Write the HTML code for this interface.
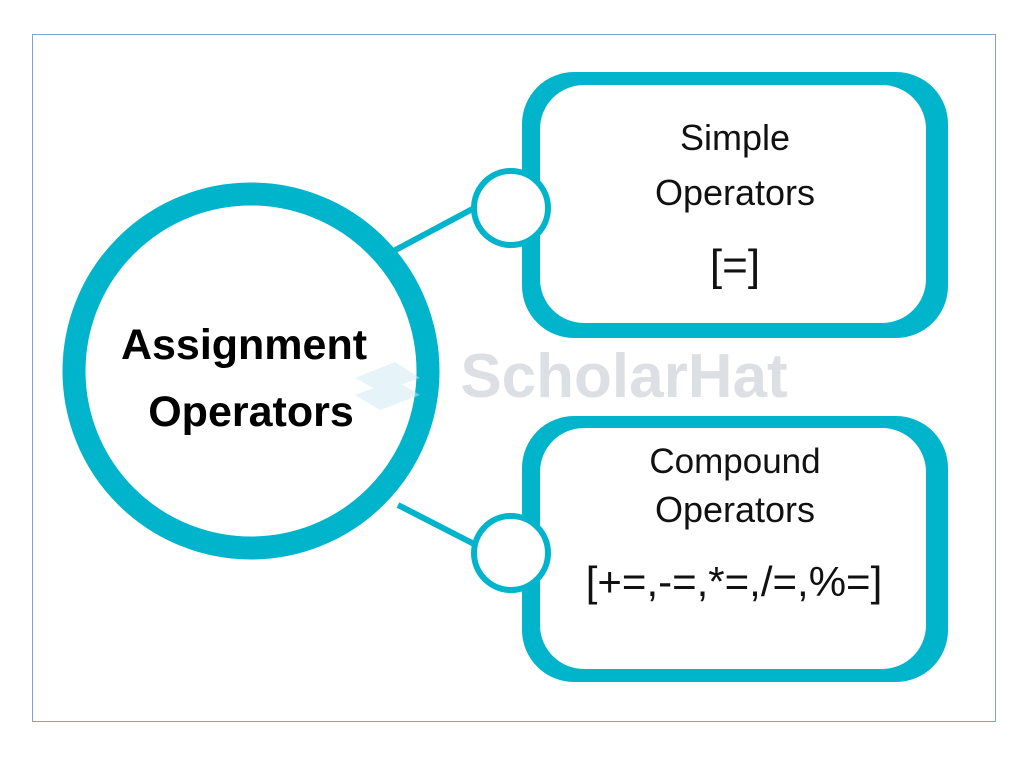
<!DOCTYPE html>
<html><head><meta charset="utf-8"><style>
html,body{margin:0;padding:0;background:#fff;}
</style></head><body>
<svg width="1024" height="752" viewBox="0 0 1024 752" xmlns="http://www.w3.org/2000/svg" font-family="Liberation Sans, sans-serif">
<rect x="0" y="0" width="1024" height="752" fill="#fff"/>
<rect x="32.5" y="34.5" width="963" height="687" fill="none" stroke="#7fa3d9" stroke-width="1"/>
<line x1="388" y1="254" x2="478" y2="206" stroke="#00b4cc" stroke-width="6"/>
<line x1="398" y1="505" x2="476" y2="545" stroke="#00b4cc" stroke-width="6"/>
<rect x="522" y="72" width="426" height="266" rx="52" fill="#00b4cc"/>
<rect x="540" y="85" width="386" height="238" rx="44" fill="#fff"/>
<rect x="522" y="416" width="426" height="266" rx="52" fill="#00b4cc"/>
<rect x="540" y="428" width="386" height="241" rx="44" fill="#fff"/>
<circle cx="511" cy="208" r="37" fill="#fff" stroke="#00b4cc" stroke-width="6"/>
<circle cx="511" cy="553" r="37" fill="#fff" stroke="#00b4cc" stroke-width="6"/>
<circle cx="251" cy="371" r="177" fill="#fff" stroke="#00b4cc" stroke-width="23"/>
<g opacity="0.5">
<polygon points="355,378 395,362 420,378 380,392" fill="#cfe9f5"/>
<polygon points="355,395 395,380 420,395 380,410" fill="#cfe9f5"/>
</g>
<text x="624" y="397" font-size="62" font-weight="bold" fill="#dcdfe3" text-anchor="middle">ScholarHat</text>
<text x="244" y="359" font-size="43" font-weight="bold" fill="#000" text-anchor="middle">Assignment</text>
<text x="251" y="426" font-size="43" font-weight="bold" fill="#000" text-anchor="middle">Operators</text>
<text x="735" y="150" font-size="36" fill="#111" text-anchor="middle">Simple</text>
<text x="735" y="205" font-size="36" fill="#111" text-anchor="middle">Operators</text>
<text x="735" y="280" font-size="44" fill="#111" text-anchor="middle">[=]</text>
<text x="735" y="473" font-size="35" fill="#111" text-anchor="middle">Compound</text>
<text x="735" y="522" font-size="36" fill="#111" text-anchor="middle">Operators</text>
<text x="734" y="596" font-size="42" fill="#111" text-anchor="middle">[+=,-=,*=,/=,%=]</text>
</svg>
</body></html>
